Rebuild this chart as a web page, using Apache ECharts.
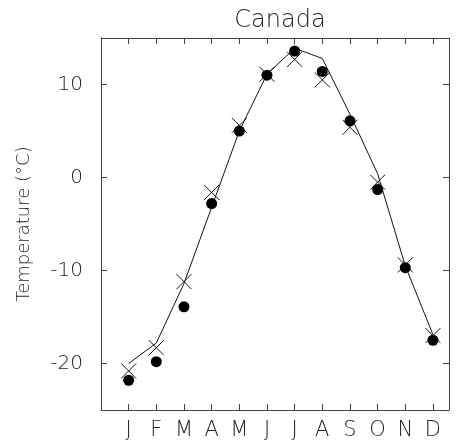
<!DOCTYPE html>
<html>
<head>
<meta charset="utf-8">
<script src="https://cdn.jsdelivr.net/npm/echarts@6/dist/echarts.min.js"></script>
<style>html,body{margin:0;padding:0;background:#fff}#c{width:461px;height:445px}</style>
</head>
<body>
<div id="c"></div>
<script>
const months = ['J','F','M','A','M','J','J','A','S','O','N','D'];
const lineValues = [-20.0, -17.8, -11.4, -3.2, 5.0, 11.1, 13.9, 12.8, 6.8, 0.4, -9.5, -16.9];
const crossValues = [-20.8, -18.3, -11.2, -1.6, 5.6, 11.1, 12.7, 10.5, 5.4, -0.5, -9.4, -17.0];
const dotValues = [-21.8, -19.8, -13.9, -2.8, 5.0, 11.0, 13.6, 11.4, 6.1, -1.3, -9.7, -17.5];
const yTicks = [-20, -10, 0, 10];
const xTicks = [1, 2, 3, 4, 5, 6, 7, 8, 9, 10, 11, 12];

const font = 'DejaVu Sans';
const pair = arr => arr.map((v, i) => [i + 1, v]);
const chart = echarts.init(document.getElementById('c'));
const axisCol = '#444';
const baseX = {
  type: 'value', min: 0, max: 12.58,
  axisLine: {show: true, onZero: false, lineStyle: {color: axisCol, width: 1}},
  axisTick: {show: true, inside: true, length: 6, customValues: xTicks, lineStyle: {color: axisCol}},
  splitLine: {show: false}
};
const baseY = {
  type: 'value', min: -25, max: 15,
  axisLine: {show: true, onZero: false, lineStyle: {color: axisCol, width: 1}},
  axisTick: {show: true, inside: true, length: 6, customValues: yTicks, lineStyle: {color: axisCol}},
  splitLine: {show: false}
};
chart.setOption({
  animation: false,
  title: {text: 'Canada', left: 275, textAlign: 'center', top: 4,
    textStyle: {fontFamily: font, fontSize: 24, fontWeight: 200, color: '#222'}},
  grid: {left: 101, right: 12, top: 38, bottom: 35},
  xAxis: [
    Object.assign({}, baseX, {position: 'bottom',
      axisLabel: {show: true, margin: 10, fontFamily: font, fontSize: 21, fontWeight: 200, color: '#222',
        customValues: xTicks, formatter: v => months[Math.round(v) - 1]}}),
    Object.assign({}, baseX, {position: 'top', axisLabel: {show: false}})
  ],
  yAxis: [
    Object.assign({}, baseY, {position: 'left',
      name: 'Temperature (°C)', nameLocation: 'middle', nameGap: 68, nameRotate: 90,
      nameTextStyle: {fontFamily: font, fontSize: 18, fontWeight: 200, color: '#222'},
      axisLabel: {show: true, margin: 18, fontFamily: font, fontSize: 20, fontWeight: 200, color: '#222',
        customValues: yTicks, formatter: v => String(v)}}),
    Object.assign({}, baseY, {position: 'right', axisLabel: {show: false}})
  ],
  series: [
    {type: 'line', data: pair(lineValues), symbol: 'none', lineStyle: {color: '#111', width: 1}, z: 2},
    {type: 'scatter', data: pair(crossValues), symbol: 'path://M0,0L10,10M10,0L0,10', symbolSize: 15,
      itemStyle: {color: 'none', borderColor: '#111', borderWidth: 1, opacity: 1}, z: 3},
    {type: 'scatter', data: pair(dotValues), symbol: 'circle', symbolSize: 11,
      itemStyle: {color: '#000', opacity: 1}, z: 4}
  ]
});
</script>
</body>
</html>
